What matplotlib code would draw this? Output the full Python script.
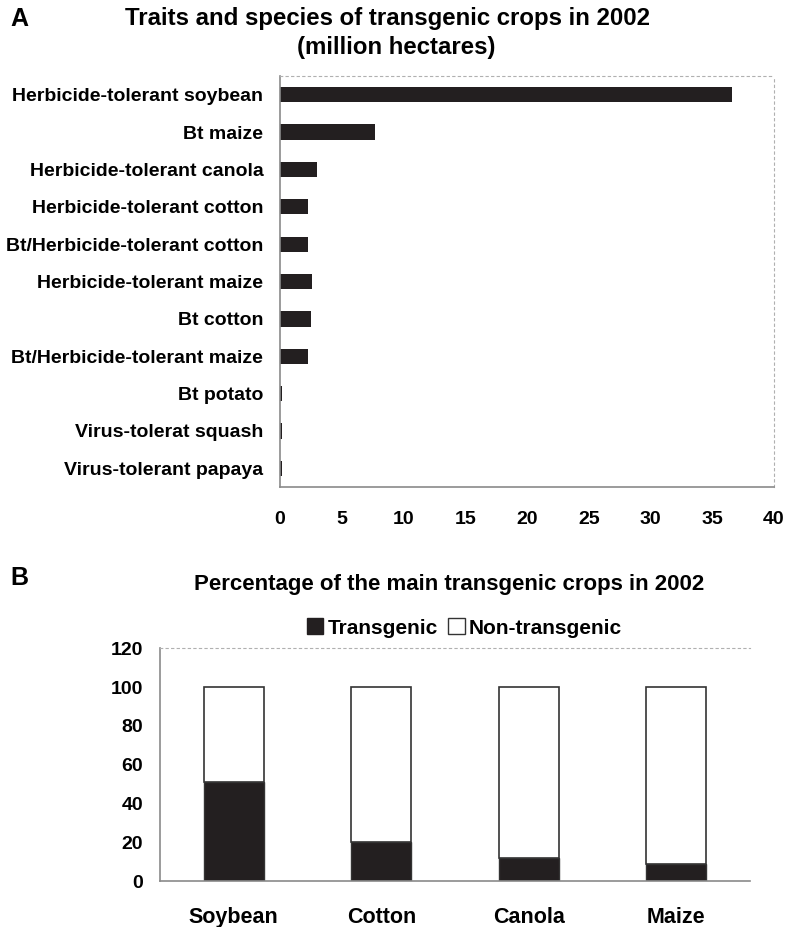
import matplotlib
matplotlib.use('Agg')
import matplotlib.pyplot as plt
from matplotlib.patches import Patch
import numpy as np

from matplotlib import rcParams
rcParams['font.family'] = 'Liberation Sans'
rcParams['font.weight'] = 'bold'
rcParams['font.size'] = 12

# panel A: traits and species (million hectares)
traits = ['Herbicide-tolerant soybean', 'Bt maize', 'Herbicide-tolerant canola',
          'Herbicide-tolerant cotton', 'Bt/Herbicide-tolerant cotton',
          'Herbicide-tolerant maize', 'Bt cotton', 'Bt/Herbicide-tolerant maize',
          'Bt potato', 'Virus-tolerat squash', 'Virus-tolerant papaya']
hectares = [36.6, 7.7, 3.0, 2.3, 2.3, 2.6, 2.5, 2.3, 0.2, 0.2, 0.2]
a_ticks = [0, 5, 10, 15, 20, 25, 30, 35, 40]

# panel B: percentage of main transgenic crops
crops = ['Soybean', 'Cotton', 'Canola', 'Maize']
transgenic = [51, 20, 12, 9]
non_transgenic = [49, 80, 88, 91]
b_ticks = [0, 20, 40, 60, 80, 100, 120]

bar_color = '#231f20'
edge_gray = '#8a8a8a'

fig = plt.figure(figsize=(7.87, 9.27), dpi=100)

# ---- panel A ----
axA = fig.add_axes([0.3558, 0.4746, 0.6277, 0.4434])
y = np.arange(len(traits))
axA.barh(y, hectares, height=0.41, color=bar_color)
axA.set_ylim(len(traits) - 0.5, -0.5)
axA.set_xlim(0, 40)
axA.set_yticks(y)
axA.set_yticklabels(traits, fontsize=14)
axA.set_xticks(a_ticks)
axA.set_xticklabels([str(t) for t in a_ticks], fontsize=14)
axA.tick_params(axis='x', length=0, pad=17)
axA.tick_params(axis='y', length=0, pad=12)
for side in ['left', 'bottom']:
    axA.spines[side].set_color(edge_gray)
    axA.spines[side].set_linewidth(1.2)
for side in ['top', 'right']:
    axA.spines[side].set_color('#b0b0b0')
    axA.spines[side].set_linestyle((0, (2, 3)))
    axA.spines[side].set_linewidth(0.8)

fig.text(0.013, 0.980, 'A', fontsize=18, ha='left', va='center')
fig.text(0.493, 0.980, 'Traits and species of transgenic crops in 2002',
         fontsize=17.3, ha='center', va='center')
fig.text(0.503, 0.949, '(million hectares)', fontsize=17.3, ha='center', va='center')

# ---- panel B ----
axB = fig.add_axes([0.2033, 0.0496, 0.7497, 0.251])
x = np.arange(len(crops))
axB.bar(x, transgenic, width=0.406, color=bar_color, edgecolor='#333333',
        linewidth=1.0, label='Transgenic')
axB.bar(x, non_transgenic, width=0.406, bottom=transgenic, color='white',
        edgecolor='#333333', linewidth=1.2, label='Non-transgenic')
axB.set_xlim(-0.5, 3.5)
axB.set_ylim(0, 120)
axB.set_yticks(b_ticks)
axB.set_yticklabels([str(t) for t in b_ticks], fontsize=14)
axB.set_xticks(x)
axB.set_xticklabels(crops, fontsize=15.5)
axB.tick_params(axis='x', length=0, pad=19)
axB.tick_params(axis='y', length=0, pad=12)
for side in ['left', 'bottom']:
    axB.spines[side].set_color(edge_gray)
    axB.spines[side].set_linewidth(1.2)
axB.spines['top'].set_color('#b0b0b0')
axB.spines['top'].set_linestyle((0, (2, 3)))
axB.spines['top'].set_linewidth(0.8)
axB.spines['right'].set_visible(False)

handles = [Patch(facecolor=bar_color, edgecolor=bar_color),
           Patch(facecolor='white', edgecolor='#333333')]
fig.legend(handles, ['Transgenic', 'Non-transgenic'], loc='center',
           bbox_to_anchor=(0.590, 0.3225), ncol=2, frameon=False, fontsize=15,
           handlelength=0.8, handleheight=0.8, handletextpad=0.2,
           columnspacing=0.5)

fig.text(0.013, 0.376, 'B', fontsize=18, ha='left', va='center')
fig.text(0.5705, 0.369, 'Percentage of the main transgenic crops in 2002',
         fontsize=16, ha='center', va='center')

fig.savefig('out.png', dpi=100)
